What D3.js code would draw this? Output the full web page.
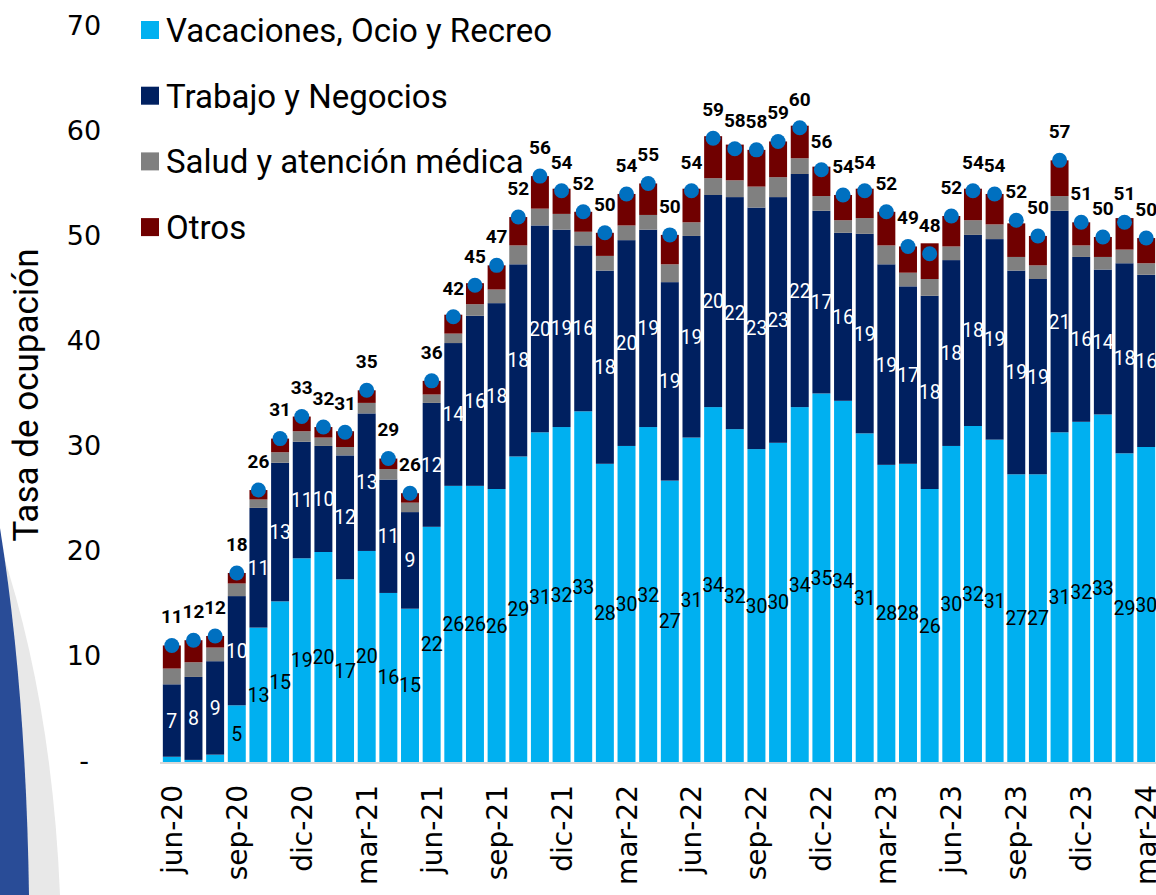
<!DOCTYPE html>
<html>
<head>
<meta charset="utf-8">
<script src="https://cdn.jsdelivr.net/npm/d3@7"></script>
<style>
  html, body { margin: 0; padding: 0; background: #fff; }
  svg { display: block; }
</style>
</head>
<body>
<div id="chart"></div>
<script>
// data
const meses = [
  "jun-20","jul-20","ago-20","sep-20","oct-20","nov-20","dic-20",
  "ene-21","feb-21","mar-21","abr-21","may-21","jun-21","jul-21","ago-21","sep-21","oct-21","nov-21","dic-21",
  "ene-22","feb-22","mar-22","abr-22","may-22","jun-22","jul-22","ago-22","sep-22","oct-22","nov-22","dic-22",
  "ene-23","feb-23","mar-23","abr-23","may-23","jun-23","jul-23","ago-23","sep-23","oct-23","nov-23","dic-23",
  "ene-24","feb-24","mar-24"
];
const tickLabels = ["jun-20","sep-20","dic-20","mar-21","jun-21","sep-21","dic-21","mar-22",
  "jun-22","sep-22","dic-22","mar-23","jun-23","sep-23","dic-23","mar-24"];

const vacaciones = [0.5,0.2,0.7,5.4,12.8,15.3,19.4,20.0,17.4,20.1,
  16.1,14.6,22.4,26.3,26.3,26.0,29.1,31.4,31.9,33.4,
  28.4,30.1,31.9,26.8,30.9,33.8,31.7,29.8,30.4,33.8,
  35.1,34.4,31.3,28.3,28.4,26.0,30.1,32.0,30.7,27.4,
  27.4,31.4,32.4,33.1,29.4,30.0];
const trabajo = [6.9,7.9,8.9,10.4,11.4,13.2,11.1,10.1,11.8,13.1,
  10.8,9.2,11.8,13.6,16.2,17.7,18.3,19.7,18.8,15.8,
  18.4,19.6,18.8,18.9,19.2,20.2,22.1,23.0,23.4,22.2,
  17.4,16.0,19.0,19.1,16.9,18.4,17.7,18.2,19.1,19.4,
  18.6,21.1,15.7,13.8,18.1,16.4];
const salud = [1.5,1.4,1.3,1.2,0.8,1.0,1.0,0.8,0.8,1.0,
  1.0,0.9,0.8,0.9,1.1,1.3,1.8,1.6,1.5,1.3,
  1.4,1.4,1.4,1.7,1.3,1.6,1.6,2.0,1.9,1.5,
  1.4,1.2,1.5,1.8,1.3,1.6,1.3,1.4,1.4,1.3,
  1.3,1.4,1.1,1.2,1.3,1.1];
const otros = [2.2,2.1,1.1,1.0,0.9,1.3,1.4,1.0,1.5,1.2,
  1.0,0.9,1.3,1.8,2.0,2.3,2.7,3.1,2.4,1.9,
  2.2,3.0,3.0,2.8,3.2,4.0,3.4,3.5,3.4,3.1,
  2.8,2.4,2.8,3.2,2.5,3.4,2.9,3.0,2.9,3.2,
  2.8,3.4,2.2,1.9,3.0,2.4];
const totales = [11.1,11.6,12.0,18.0,25.9,30.8,32.9,31.9,31.4,35.4,
  28.9,25.6,36.3,42.4,45.4,47.3,51.9,55.8,54.4,52.4,
  50.4,54.1,55.1,50.2,54.4,59.4,58.4,58.3,59.1,60.4,
  56.4,54.0,54.4,52.4,49.1,48.4,52.0,54.4,54.1,51.6,
  50.1,57.3,51.4,50.0,51.4,49.9];

const seriesNames = ["Vacaciones, Ocio y Recreo", "Trabajo y Negocios", "Salud y atención médica", "Otros"];
const seriesColors = ["#00b0f0", "#002060", "#808080", "#700000"];
const yTicks = [0, 10, 20, 30, 40, 50, 60, 70];

const width = 1156, height = 895;
const FONT = "Roboto, 'Noto Sans', sans-serif";
const AXIS_FONT = "'DejaVu Sans', sans-serif";

const rows = meses.map((m, i) => ({
  mes: m, vac: vacaciones[i], trab: trabajo[i], salud: salud[i], otros: otros[i], total: totales[i]
}));
const keys = ["vac", "trab", "salud", "otros"];

const svg = d3.select("#chart").append("svg")
  .attr("width", width)
  .attr("height", height)
  .style("background", "#fff");

// slide decoration, bottom left
svg.append("path")
  .attr("d", "M0,545 Q52,700 60,895 L0,895 Z")
  .attr("fill", "#e8e8e8");
svg.append("path")
  .attr("d", "M0,528 Q26,690 29,895 L0,895 Z")
  .attr("fill", "#294c97");

const x = d3.scaleBand()
  .domain(meses)
  .range([161, 1157])
  .paddingInner(0.17)
  .paddingOuter(0.085);

const y = d3.scaleLinear()
  .domain([0, 70])
  .range([762, 27]);

// y axis labels (no line)
svg.append("g")
  .selectAll("text")
  .data(yTicks)
  .enter()
  .append("text")
  .attr("x", 84)
  .attr("y", d => y(d))
  .attr("dy", "0.28em")
  .attr("text-anchor", "middle")
  .style("font-family", AXIS_FONT)
  .style("font-size", "27px")
  .style("fill", "#000")
  .text(d => d === 0 ? "-" : d);

svg.append("text")
  .attr("transform", `translate(38,${395}) rotate(-90)`)
  .attr("text-anchor", "middle")
  .style("font-family", FONT)
  .style("font-size", "35px")
  .style("fill", "#000")
  .text("Tasa de ocupación");

// stacked bars
const stacked = d3.stack().keys(keys)(rows);

const layers = svg.append("g")
  .selectAll("g")
  .data(stacked)
  .enter()
  .append("g")
  .attr("fill", (d, i) => seriesColors[i]);

layers.selectAll("rect")
  .data(d => d)
  .enter()
  .append("rect")
  .attr("x", d => x(d.data.mes))
  .attr("width", x.bandwidth())
  .attr("y", d => y(d[1]))
  .attr("height", d => y(d[0]) - y(d[1]));

// baseline
svg.append("line")
  .attr("x1", 160)
  .attr("x2", 1156)
  .attr("y1", y(0) + 1)
  .attr("y2", y(0) + 1)
  .attr("stroke", "#d9d9d9")
  .attr("stroke-width", 2);

// segment labels
const cx = d => x(d.data.mes) + x.bandwidth() / 2;

svg.append("g")
  .selectAll("text")
  .data(stacked[0].filter(d => d.data.vac >= 1))
  .enter()
  .append("text")
  .attr("x", cx)
  .attr("y", d => y((d[0] + d[1]) / 2))
  .attr("dy", "0.36em")
  .attr("text-anchor", "middle")
  .style("font-family", FONT)
  .style("font-size", "19.5px")
  .style("fill", "#000")
  .text(d => Math.round(d.data.vac));

svg.append("g")
  .selectAll("text")
  .data(stacked[1])
  .enter()
  .append("text")
  .attr("x", cx)
  .attr("y", d => y((d[0] + d[1]) / 2))
  .attr("dy", "0.36em")
  .attr("text-anchor", "middle")
  .style("font-family", FONT)
  .style("font-size", "19.5px")
  .style("fill", "#fff")
  .text(d => Math.round(d.data.trab));

// total dots and labels
svg.append("g")
  .selectAll("circle")
  .data(rows)
  .enter()
  .append("circle")
  .attr("cx", d => x(d.mes) + x.bandwidth() / 2)
  .attr("cy", d => y(d.total))
  .attr("r", 7.5)
  .attr("fill", "#0070c0");

svg.append("g")
  .selectAll("text")
  .data(rows)
  .enter()
  .append("text")
  .attr("x", d => x(d.mes) + x.bandwidth() / 2)
  .attr("y", d => y(d.total) - 29)
  .attr("dy", "0.36em")
  .attr("text-anchor", "middle")
  .style("font-family", FONT)
  .style("font-size", "19px")
  .style("font-weight", "bold")
  .style("fill", "#000")
  .text(d => Math.round(d.total));

// x axis labels, every third month
svg.append("g")
  .selectAll("text")
  .data(tickLabels)
  .enter()
  .append("text")
  .attr("transform", d => `translate(${x(d) + x.bandwidth() / 2 + 10},785) rotate(-90)`)
  .attr("text-anchor", "end")
  .style("font-family", AXIS_FONT)
  .style("font-size", "28px")
  .style("fill", "#000")
  .text(d => d);

// legend
const legend = svg.append("g")
  .selectAll("g")
  .data(seriesNames)
  .enter()
  .append("g")
  .attr("transform", (d, i) => `translate(141,${30 + i * 65.7})`);

legend.append("rect")
  .attr("x", 0)
  .attr("y", -9)
  .attr("width", 18)
  .attr("height", 18)
  .attr("fill", (d, i) => seriesColors[i]);

legend.append("text")
  .attr("x", 25)
  .attr("y", 0)
  .attr("dy", "0.36em")
  .style("font-family", FONT)
  .style("font-size", "33px")
  .style("fill", "#000")
  .text(d => d);
</script>
</body>
</html>
